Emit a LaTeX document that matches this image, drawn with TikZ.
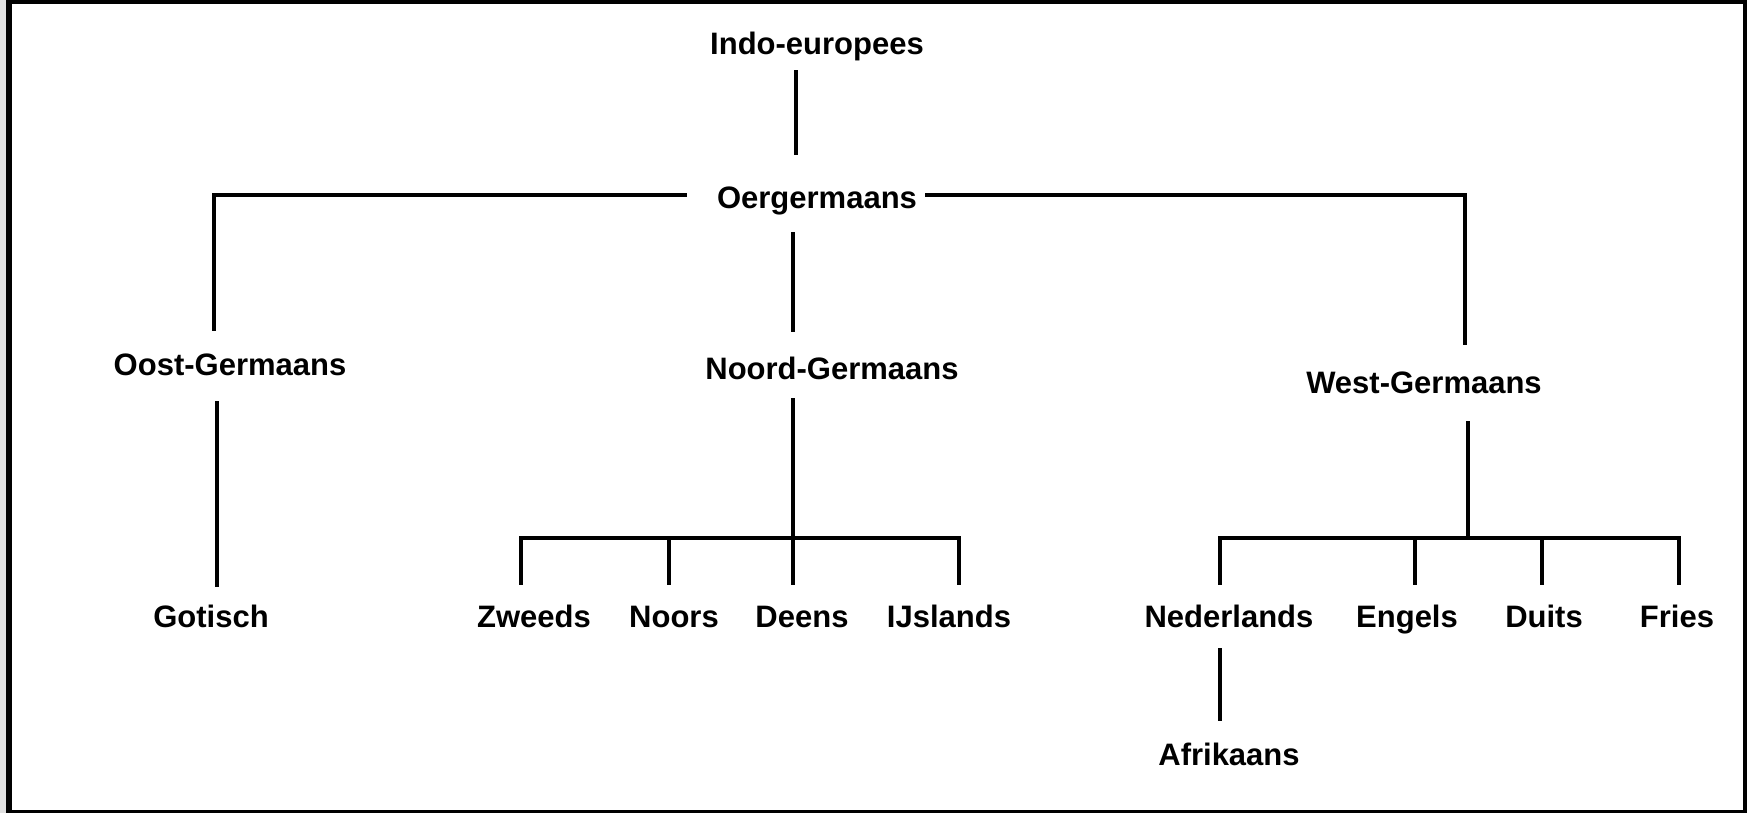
\documentclass[tikz,border=0pt]{standalone}
\usepackage{fontspec}
\setmainfont{Liberation Sans}
\begin{document}
\begin{tikzpicture}[x=1pt,y=-1pt,
  lang/.style={anchor=base,inner sep=0pt,text height=24pt,text depth=7pt,
    font=\fontsize{31}{31}\selectfont\bfseries},
  conn/.style={line width=4pt}]
\useasboundingbox (0,0) rectangle (1747,813);
% frame
\fill[black] (0,0) rectangle (1747,813);
\fill[black!12] (0,0) rectangle (6,813);
\fill[white] (12,4) rectangle (1743,810);
% nodes
\node[lang] (indo) at (817,55) {Indo-europees};
\node[lang] (oerg) at (817,208) {Oergermaans};
\node[lang] (oost) at (230,375) {Oost-Germaans};
\node[lang] (noord) at (832,379) {Noord-Germaans};
\node[lang] (west) at (1424,393) {West-Germaans};
\node[lang] (got) at (211,627) {Gotisch};
\node[lang] (zw) at (534,627) {Zweeds};
\node[lang] (no) at (674,627) {Noors};
\node[lang] (de) at (802,627) {Deens};
\node[lang] (ij) at (949,627) {IJslands};
\node[lang] (ne) at (1229,627) {Nederlands};
\node[lang] (en) at (1407,627) {Engels};
\node[lang] (du) at (1544,627) {Duits};
\node[lang] (fr) at (1677,627) {Fries};
\node[lang] (af) at (1229,765) {Afrikaans};
\coordinate (nbar) at (793,538);
\coordinate (wbar) at (1468,538);
% connectors
\draw[conn,shorten <=8pt,shorten >=29pt] ([xshift=-21pt]indo.south) -- ([xshift=-21pt]oerg.north);
\draw[conn,shorten <=30pt,shorten >=20pt] ([yshift=4.5pt]oerg.west) -| ([xshift=-16pt]oost.north);
\draw[conn,shorten <=17pt,shorten >=23pt] ([xshift=-24pt]oerg.south) -- ([xshift=-39pt]noord.north);
\draw[conn,shorten <=8pt,shorten >=24pt] ([yshift=4.5pt]oerg.east) -| ([xshift=41pt]west.north);
\draw[conn,shorten <=19pt,shorten >=16pt] ([xshift=-13pt]oost.south) -- ([xshift=6pt]got.north);
\draw[conn,shorten <=12pt] ([xshift=-39pt]noord.south) -- (nbar);
\draw[conn,shorten >=18pt] (nbar) -| ([xshift=-13pt]zw.north);
\draw[conn,shorten >=18pt] (nbar) -| ([xshift=-5.5pt]no.north);
\draw[conn,shorten >=18pt] (nbar) -| ([xshift=-9pt]de.north);
\draw[conn,shorten >=18pt] (nbar) -| ([xshift=10pt]ij.north);
\draw[conn,shorten <=21pt] ([xshift=44pt]west.south) -- (wbar);
\draw[conn,shorten >=18pt] (wbar) -| ([xshift=-9pt]ne.north);
\draw[conn,shorten >=18pt] (wbar) -| ([xshift=8pt]en.north);
\draw[conn,shorten >=18pt] (wbar) -| ([xshift=-2pt]du.north);
\draw[conn,shorten >=18pt] (wbar) -| ([xshift=2pt]fr.north);
\draw[conn,shorten <=14pt,shorten >=20pt] ([xshift=-9pt]ne.south) -- ([xshift=-9pt]af.north);
\end{tikzpicture}
\end{document}
